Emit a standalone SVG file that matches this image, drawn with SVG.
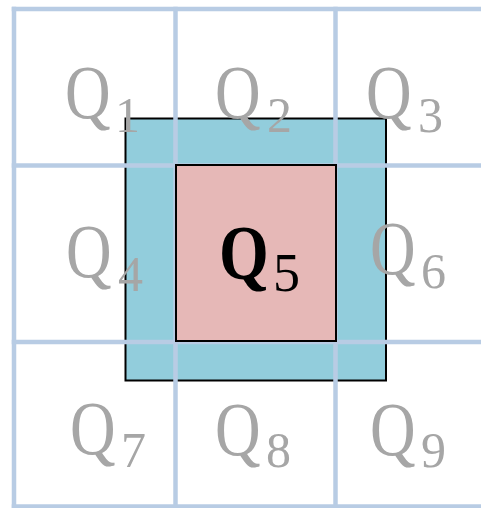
<svg xmlns="http://www.w3.org/2000/svg" width="481" height="508" viewBox="0 0 481 508">
<style>
.grid{stroke:#b8cce4;stroke-width:4.5;fill:none;stroke-linecap:square}
.q{font-family:"Liberation Serif",serif;font-size:77px;fill:#a6a6a6}
.s{font-family:"Liberation Serif",serif;font-size:50px;fill:#a6a6a6}
</style>
<rect width="481" height="508" fill="#ffffff"/>
<g id="outer"><rect x="125.5" y="118.5" width="260.5" height="262" fill="#92cddc" stroke="#000" stroke-width="2"/></g>
<g id="grid">
<line class="grid" x1="14" y1="9" x2="14" y2="508"/>
<line class="grid" x1="175.5" y1="9" x2="175.5" y2="508"/>
<line class="grid" x1="335.5" y1="9" x2="335.5" y2="508"/>
<line class="grid" x1="14" y1="9" x2="483" y2="9"/>
<line class="grid" x1="14" y1="165.5" x2="483" y2="165.5"/>
<line class="grid" x1="14" y1="342" x2="483" y2="342"/>
<line class="grid" x1="14" y1="506.5" x2="483" y2="506.5"/>
</g>
<g id="inner"><rect x="176" y="165" width="160" height="176" fill="#e6b8b7" stroke="#000" stroke-width="2"/></g>
<g id="labels">
<g id="q1"><text class="q" transform="translate(65,118) scale(0.82,1)">Q</text><text class="s" x="115" y="132">1</text></g>
<g id="q2"><text class="q" transform="translate(215,118) scale(0.82,1)">Q</text><text class="s" x="267" y="132">2</text></g>
<g id="q3"><text class="q" transform="translate(366,118) scale(0.82,1)">Q</text><text class="s" x="418" y="132">3</text></g>
<g id="q4"><text class="q" transform="translate(66,277) scale(0.82,1)">Q</text><text class="s" x="118" y="291">4</text></g>
<g id="q5"><text transform="translate(219,279) scale(0.82,1)" style="font-family:'Liberation Serif',serif;font-size:78px;font-weight:bold;fill:#000">Q</text><text x="273" y="291" style="font-family:'Liberation Serif',serif;font-size:54px;fill:#000">5</text></g>
<g id="q6"><text class="q" transform="translate(370,274) scale(0.82,1)">Q</text><text class="s" x="421" y="288">6</text></g>
<g id="q7"><text class="q" transform="translate(70,454) scale(0.82,1)">Q</text><text class="s" x="121" y="467">7</text></g>
<g id="q8"><text class="q" transform="translate(215,455) scale(0.82,1)">Q</text><text class="s" x="266" y="467">8</text></g>
<g id="q9"><text class="q" transform="translate(370,455) scale(0.82,1)">Q</text><text class="s" x="421" y="467">9</text></g>
</g>
</svg>
